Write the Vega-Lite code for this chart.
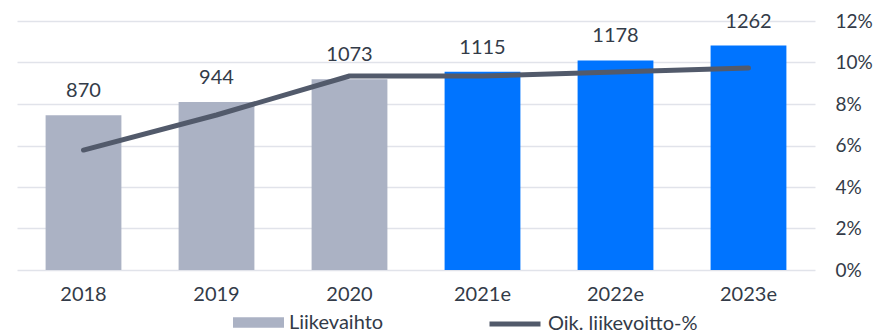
{
  "$schema": "https://vega.github.io/schema/vega-lite/v6.json",
  "width": 798,
  "height": 249,
  "autosize": {"type": "none"},
  "padding": {"left": 17, "top": 21, "right": 59, "bottom": 62},
  "background": "white",
  "config": {
    "font": "Lato",
    "view": {"stroke": null},
    "axis": {"labelFont": "Lato", "labelColor": "#333b48", "domain": false, "ticks": false, "titleFont": "Lato"},
    "legend": {"labelFont": "Lato", "labelColor": "#333b48", "labelFontSize": 20, "labelLimit": 400}
  },
  "data": {
    "values": [
      {"year": "2018", "sales": 870, "margin": 0.0578, "type": "Liikevaihto"},
      {"year": "2019", "sales": 944, "margin": 0.0747, "type": "Liikevaihto"},
      {"year": "2020", "sales": 1073, "margin": 0.0935, "type": "Liikevaihto"},
      {"year": "2021e", "sales": 1115, "margin": 0.0935, "type": "Ennuste"},
      {"year": "2022e", "sales": 1178, "margin": 0.0954, "type": "Ennuste"},
      {"year": "2023e", "sales": 1262, "margin": 0.0973, "type": "Ennuste"}
    ]
  },
  "encoding": {
    "x": {
      "field": "year",
      "type": "ordinal",
      "sort": null,
      "scale": {"paddingInner": 0.43, "paddingOuter": 0.215},
      "axis": {"title": null, "labelAngle": 0, "labelFontSize": 20, "labelPadding": 14}
    }
  },
  "layer": [
    {
      "mark": {"type": "bar"},
      "encoding": {
        "y": {"field": "sales", "type": "quantitative", "scale": {"domain": [0, 1400]}, "axis": null},
        "fill": {
          "field": "type",
          "type": "nominal",
          "scale": {"domain": ["Liikevaihto", "Ennuste"], "range": ["#abb2c4", "#0074ff"]},
          "legend": {
            "values": ["Liikevaihto"],
            "title": null,
            "orient": "none",
            "legendX": 216,
            "legendY": 276,
            "symbolType": "M-1,-0.21H1V0.21H-1Z",
            "symbolSize": 2600,
            "symbolStrokeWidth": 0,
            "labelOffset": 5
          }
        }
      }
    },
    {
      "mark": {"type": "text", "baseline": "middle", "dy": -24, "fontSize": 20, "color": "#333b48", "font": "Lato"},
      "encoding": {
        "y": {"field": "sales", "type": "quantitative", "scale": {"domain": [0, 1400]}, "axis": null},
        "text": {"field": "sales", "type": "quantitative", "format": "d"}
      }
    },
    {
      "mark": {"type": "line", "strokeWidth": 5, "strokeCap": "round", "strokeJoin": "round"},
      "encoding": {
        "y": {
          "field": "margin",
          "type": "quantitative",
          "scale": {"domain": [0, 0.12]},
          "axis": {
            "orient": "right",
            "title": null,
            "format": ".0%",
            "values": [0, 0.02, 0.04, 0.06, 0.08, 0.1, 0.12],
            "labelFontSize": 19,
            "labelPadding": 20,
            "grid": true,
            "gridColor": "#e1e3ea",
            "gridWidth": 1.5
          }
        },
        "stroke": {
          "datum": "Oik. liikevoitto-%",
          "scale": {"range": ["#525a6b"]},
          "legend": {
            "title": null,
            "orient": "none",
            "legendX": 470,
            "legendY": 275,
            "symbolType": "stroke",
            "symbolSize": 2601,
            "symbolStrokeWidth": 5,
            "labelOffset": 5
          }
        }
      }
    }
  ],
  "resolve": {"scale": {"y": "independent"}}
}
